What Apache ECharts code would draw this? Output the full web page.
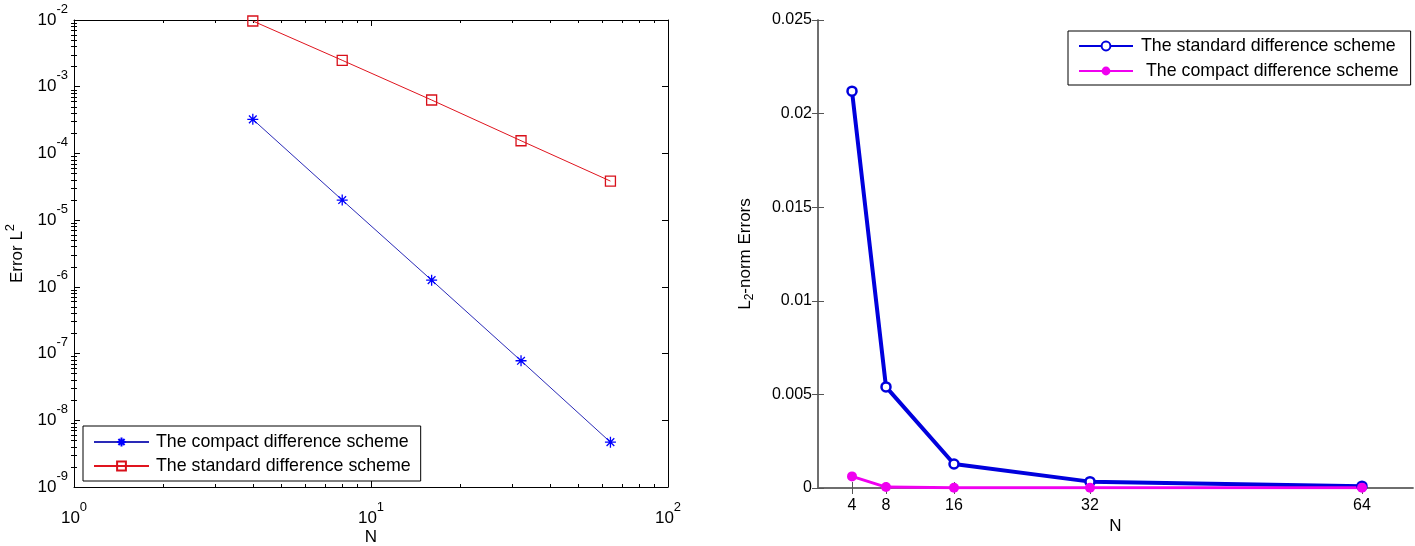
<!DOCTYPE html>
<html>
<head>
<meta charset="utf-8">
<script src="https://cdn.jsdelivr.net/npm/echarts@6/dist/echarts.min.js"></script>
<style>
html, body { margin: 0; padding: 0; background: #fff; }
#chart { width: 1415px; height: 546px; }
</style>
</head>
<body>
<div id="chart"></div>
<script>
// data
const nValues = [4, 8, 16, 32, 64];
const leftCompact = [3.24e-4, 2.0e-5, 1.26e-6, 7.8e-8, 4.7e-9];
const leftStandard = [9.66e-3, 2.49e-3, 6.32e-4, 1.55e-4, 3.85e-5];
const rightStandard = [0.0212, 0.0054, 0.00128, 0.00034, 0.0001];
const rightCompact = [0.00062, 0.00005, 0.00001, 0.00001, 0.00001];
const rightTicks = [4, 8, 16, 32, 64];
const compactName = 'The compact difference scheme';
const standardName = 'The standard difference scheme';
// right chart names (same words, kept apart for the legends)
const standardName2 = 'The standard difference scheme ';
const compactName2 = ' The compact difference scheme';

const FONT = 'Liberation Sans, Arial, sans-serif';

// minor log ticks, in decades (drawn on a linear overlay axis)
const xMinor = [];
for (let d = 0; d < 2; d++) for (let m = 2; m <= 9; m++) xMinor.push(d + Math.log10(m));
const yMinor = [];
for (let d = -9; d < -2; d++) for (let m = 2; m <= 9; m++) yMinor.push(d + Math.log10(m));

const supRich = {
  b: { fontSize: 17, fontFamily: FONT, color: '#000', lineHeight: 18 },
  s: { fontSize: 13, fontFamily: FONT, color: '#000', lineHeight: 13, padding: [0, 0, 22, 0] }
};
const expLabel = v => '{b|10}{s|' + Math.round(Math.log10(v)) + '}';

const blackLine = { show: true, lineStyle: { color: '#000', width: 1 } };
const greyLine = { show: true, lineStyle: { color: '#666', width: 1.5 } };

const starPath = 'path://M5,0L5,10M0,5L10,5M1.5,1.5L8.5,8.5M8.5,1.5L1.5,8.5';

let chart = echarts.init(document.getElementById('chart'));
let option = {
  animation: false,
  backgroundColor: '#fff',
  grid: [
    { left: 74, top: 20, width: 594, height: 467, outerBoundsMode: 'none' },
    { left: 74, top: 20, width: 594, height: 467, outerBoundsMode: 'none' },
    { left: 818, top: 20, width: 595, height: 468, outerBoundsMode: 'none' }
  ],
  legend: [
    {
      data: [compactName, standardName],
      orient: 'vertical', left: 83, top: 426,
      padding: [7, 10, 6, 10], itemGap: 6,
      itemWidth: 55, itemHeight: 11,
      borderColor: '#000', borderWidth: 1, backgroundColor: '#fff',
      selectedMode: false,
      textStyle: { fontSize: 17.8, fontFamily: FONT, color: '#000', padding: [0, 0, 0, 2] }
    },
    {
      data: [standardName2, compactName2],
      orient: 'vertical', left: 1068, top: 31,
      padding: [6, 10, 5, 10], itemGap: 7,
      itemWidth: 54, itemHeight: 11,
      borderColor: '#000', borderWidth: 1, backgroundColor: '#fff',
      selectedMode: false,
      textStyle: { fontSize: 17.8, fontFamily: FONT, color: '#000', padding: [0, 0, 0, 3] }
    }
  ],
  xAxis: [
    {
      gridIndex: 0, type: 'log', logBase: 10, min: 1, max: 100, interval: 1, position: 'bottom',
      axisLine: blackLine,
      axisTick: { inside: true, length: 6, lineStyle: { color: '#000' } },
      axisLabel: { formatter: expLabel, rich: supRich, margin: 22, showMinLabel: true, showMaxLabel: true },
      splitLine: { show: false },
      name: 'N', nameLocation: 'middle', nameGap: 42, nameMoveOverlap: false,
      nameTextStyle: { fontSize: 17, fontFamily: FONT, color: '#000' }
    },
    {
      gridIndex: 0, type: 'log', logBase: 10, min: 1, max: 100, interval: 1, position: 'top',
      axisLine: blackLine,
      axisTick: { inside: true, length: 6, lineStyle: { color: '#000' } },
      axisLabel: { show: false }, splitLine: { show: false }
    },
    {
      gridIndex: 1, type: 'value', min: 0, max: 2, position: 'bottom',
      axisLine: { show: false },
      axisTick: { inside: true, length: 3, customValues: xMinor, lineStyle: { color: '#000' } },
      axisLabel: { show: false }, splitLine: { show: false }
    },
    {
      gridIndex: 1, type: 'value', min: 0, max: 2, position: 'top',
      axisLine: { show: false },
      axisTick: { inside: true, length: 3, customValues: xMinor, lineStyle: { color: '#000' } },
      axisLabel: { show: false }, splitLine: { show: false }
    },
    {
      gridIndex: 2, type: 'value', min: 0, max: 70, position: 'bottom',
      axisLine: greyLine,
      axisTick: { inside: true, length: 6, customValues: rightTicks, lineStyle: { color: '#555' } },
      axisLabel: { customValues: rightTicks, fontSize: 16, fontFamily: FONT, color: '#000', margin: 10 },
      splitLine: { show: false },
      name: 'N', nameLocation: 'middle', nameGap: 30, nameMoveOverlap: false,
      nameTextStyle: { fontSize: 17, fontFamily: FONT, color: '#000' }
    },
    {
      gridIndex: 2, type: 'value', min: 0, max: 70, position: 'top',
      axisLine: greyLine,
      axisTick: { inside: true, length: 6, customValues: rightTicks, lineStyle: { color: '#555' } },
      axisLabel: { show: false }, splitLine: { show: false }
    }
  ],
  yAxis: [
    {
      gridIndex: 0, type: 'log', logBase: 10, min: 1e-9, max: 1e-2, interval: 1, position: 'left',
      axisLine: blackLine,
      axisTick: { inside: true, length: 6, lineStyle: { color: '#000' } },
      axisLabel: { formatter: expLabel, rich: supRich, margin: 6, showMinLabel: true, showMaxLabel: true },
      splitLine: { show: false },
      name: '{a|Error L}{s|2}', nameLocation: 'middle', nameGap: 48, nameRotate: 90, nameMoveOverlap: false,
      nameTextStyle: {
        rich: {
          a: { fontSize: 17, fontFamily: FONT, color: '#000', lineHeight: 18 },
          s: { fontSize: 13, fontFamily: FONT, color: '#000', lineHeight: 13, padding: [0, 0, 14, 0] }
        }
      }
    },
    {
      gridIndex: 0, type: 'log', logBase: 10, min: 1e-9, max: 1e-2, interval: 1, position: 'right',
      axisLine: blackLine,
      axisTick: { inside: true, length: 6, lineStyle: { color: '#000' } },
      axisLabel: { show: false }, splitLine: { show: false }
    },
    {
      gridIndex: 1, type: 'value', min: -9, max: -2, position: 'left',
      axisLine: { show: false },
      axisTick: { inside: true, length: 3, customValues: yMinor, lineStyle: { color: '#000' } },
      axisLabel: { show: false }, splitLine: { show: false }
    },
    {
      gridIndex: 1, type: 'value', min: -9, max: -2, position: 'right',
      axisLine: { show: false },
      axisTick: { inside: true, length: 3, customValues: yMinor, lineStyle: { color: '#000' } },
      axisLabel: { show: false }, splitLine: { show: false }
    },
    {
      gridIndex: 2, type: 'value', min: 0, max: 0.025, interval: 0.005, position: 'left',
      axisLine: greyLine,
      axisTick: { inside: true, length: 6, lineStyle: { color: '#555' } },
      axisLabel: { fontSize: 16, fontFamily: FONT, color: '#000', margin: 6 },
      splitLine: { show: false },
      name: '{a|L}{s|2}{a|-norm Errors}', nameLocation: 'middle', nameGap: 64, nameRotate: 90, nameMoveOverlap: false,
      nameTextStyle: {
        rich: {
          a: { fontSize: 17, fontFamily: FONT, color: '#000', lineHeight: 18 },
          s: { fontSize: 12, fontFamily: FONT, color: '#000', lineHeight: 12, padding: [10, 0, 0, 0] }
        }
      }
    },
    {
      gridIndex: 2, type: 'value', min: 0, max: 0.025, interval: 0.005, position: 'right',
      axisLine: greyLine,
      axisTick: { inside: true, length: 6, lineStyle: { color: '#555' } },
      axisLabel: { show: false }, splitLine: { show: false }
    }
  ],
  series: [
    {
      name: compactName, type: 'line', xAxisIndex: 0, yAxisIndex: 0,
      data: nValues.map((n, i) => [n, leftCompact[i]]),
      symbol: starPath, symbolSize: 11,
      lineStyle: { color: '#2a2ab8', width: 1 },
      itemStyle: { color: 'none', borderColor: '#0000ff', borderWidth: 1.3 },
      emphasis: { disabled: true }
    },
    {
      name: standardName, type: 'line', xAxisIndex: 0, yAxisIndex: 0,
      data: nValues.map((n, i) => [n, leftStandard[i]]),
      symbol: 'rect', symbolSize: 10,
      lineStyle: { color: '#e0141e', width: 1 },
      itemStyle: { color: 'none', borderColor: '#d8101a', borderWidth: 1.3 },
      emphasis: { disabled: true }
    },
    {
      name: standardName2, type: 'line', xAxisIndex: 4, yAxisIndex: 4,
      data: nValues.map((n, i) => [n, rightStandard[i]]),
      symbol: 'circle', symbolSize: 9,
      lineStyle: { color: '#0000dd', width: 4 },
      itemStyle: { color: '#fff', borderColor: '#0000dd', borderWidth: 2.5 },
      emphasis: { disabled: true }
    },
    {
      name: compactName2, type: 'line', xAxisIndex: 4, yAxisIndex: 4,
      data: nValues.map((n, i) => [n, rightCompact[i]]),
      symbol: 'circle', symbolSize: 10,
      lineStyle: { color: '#f000f0', width: 3 },
      itemStyle: { color: '#f000f0' },
      emphasis: { disabled: true }
    }
  ]
};
chart.setOption(option);
</script>
</body>
</html>
